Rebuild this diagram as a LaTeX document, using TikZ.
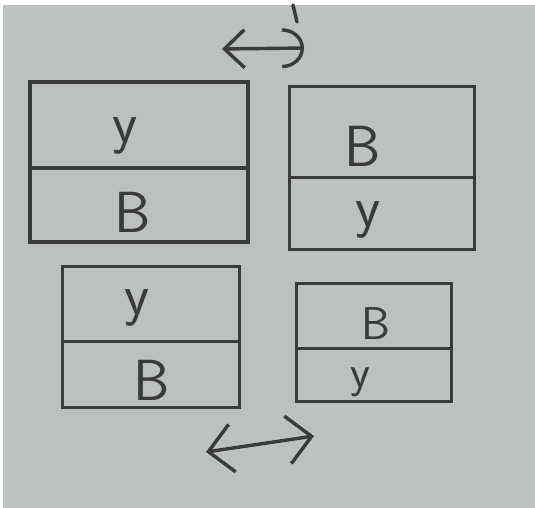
\documentclass[tikz,border=0pt]{standalone}
\usepackage{tikz}
\usetikzlibrary{positioning, arrows.meta}

\definecolor{paper}{RGB}{189,192,192}
\definecolor{ink}{RGB}{58,58,58}

\begin{document}
\begin{tikzpicture}[
        x=1pt, y=-1pt,
        cell/.style={rectangle, draw=ink, line width=3.4pt, minimum width=#1, inner sep=0pt, outer sep=0pt},
        letter/.style={text=ink, font=\sffamily\fontsize{58}{58}\selectfont, inner sep=0pt},
        small letter/.style={letter, font=\sffamily\fontsize{46}{46}\selectfont},
        swap/.style={draw=ink, line width=3.4pt, line cap=round, line join=round}
    ]
    % paper
    \fill[white] (0,0) rectangle (535,508);
    \fill[paper] (3,5) rectangle (535,508);
    \useasboundingbox (0,0) rectangle (535,508);

    % top left pair
    \node[cell=218pt, minimum height=86pt] (tlTop) at (139,125) {};
    \node[cell=218pt, minimum height=74pt, below=0pt of tlTop] (tlBot) {};
    \node[letter] (tlY) at (125,136) {y};
    \node[letter] (tlB) at (133,212) {B};

    % top right pair
    \node[cell=185pt, minimum height=91pt] (trTop) at (382,132) {};
    \node[cell=185pt, minimum height=72pt, below=0pt of trTop] (trBot) {};
    \node[letter] (trB) at (363,146) {B};
    \node[letter] (trY) at (368,220) {y};

    % bottom left pair
    \node[cell=177pt, minimum height=75pt] (blTop) at (151,304) {};
    \node[cell=177pt, minimum height=66pt, below=0pt of blTop] (blBot) {};
    \node[letter] (blY) at (137,308) {y};
    \node[letter] (blB) at (152,380) {B};

    % bottom right pair
    \node[cell=155pt, minimum height=65pt] (brTop) at (374,316) {};
    \node[cell=155pt, minimum height=53pt, below=0pt of brTop] (brBot) {};
    \node[small letter] (brB) at (376,324) {B};
    \node[small letter] (brY) at (360,382) {y};

    % swap arrows
    \coordinate (topL) at (222,49);
    \coordinate (topR) at (304,48);
    \coordinate (botL) at (206,452);
    \coordinate (botR) at (314,436);
    \coordinate (tickA) at (293,5);
    \coordinate (tickB) at (297,22);

    \draw[swap, {Straight Barb[length=20pt, width=38pt]}-{Arc Barb[length=22pt, width=40pt]}] (topL) -- (topR);
    \draw[swap, {Straight Barb[length=24pt, width=48pt]}-{Straight Barb[length=24pt, width=48pt]}] (botL) -- (botR);
    \draw[swap] (tickA) -- (tickB);
\end{tikzpicture}
\end{document}
